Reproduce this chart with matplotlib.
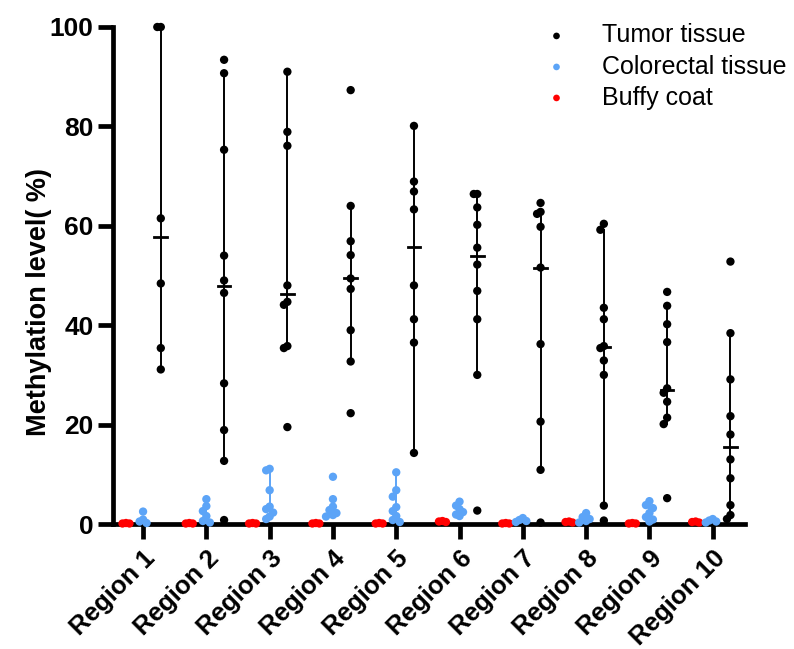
import numpy as np
import matplotlib
matplotlib.use("Agg")
import matplotlib.pyplot as plt

plt.rcParams["font.family"] = ["Liberation Sans", "Noto Sans CJK SC", "DejaVu Sans"]

regions = ["Region 1", "Region 2", "Region 3", "Region 4", "Region 5",
           "Region 6", "Region 7", "Region 8", "Region 9", "Region 10"]
yticks = [0, 20, 40, 60, 80, 100]

# tumor tissue (black)
tumor = [
    [100, 100, 61.5, 48.4, 35.4, 31.1],
    [93.4, 90.7, 75.3, 54.0, 49.0, 46.5, 28.3, 18.9, 12.7, 0.8],
    [91.0, 78.9, 76.1, 48.0, 44.7, 44.1, 35.8, 35.4, 19.5],
    [87.3, 64.0, 56.9, 54.1, 49.4, 47.3, 39.0, 32.7, 22.3],
    [80.1, 68.9, 66.9, 63.3, 48.0, 41.2, 36.5, 14.3],
    [66.4, 66.4, 63.7, 60.2, 55.6, 52.2, 46.9, 41.2, 30.0, 2.7],
    [64.6, 62.8, 62.4, 59.8, 51.6, 36.2, 20.6, 10.9, 0.3],
    [60.4, 59.2, 43.5, 41.2, 35.8, 35.4, 32.9, 30.0, 3.7, 0.7],
    [46.7, 43.9, 40.2, 36.6, 27.3, 26.4, 24.6, 21.4, 20.1, 5.2],
    [52.8, 38.4, 29.1, 21.7, 18.0, 13.0, 9.2, 3.8, 1.8, 1.0],
]
tumor_mid = [57.8, 47.8, 46.2, 49.4, 55.7, 54.0, 51.6, 35.6, 26.9, 15.5]
tumor_lo = [31.1, 12.7, 35.5, 32.7, 14.3, 30.0, 10.9, 3.7, 20.1, 1.8]
tumor_hi = [100, 90.7, 91.0, 64.0, 80.1, 66.4, 62.8, 59.2, 43.9, 38.4]

# colorectal tissue (blue)
colorectal = [
    [2.5, 0.9, 0.5, 0.2],
    [5.0, 3.6, 2.6, 1.6, 0.6, 0.3],
    [11.1, 10.8, 6.8, 3.5, 3.0, 2.3, 1.5, 1.0],
    [9.5, 5.0, 3.5, 2.8, 2.2, 1.8, 1.5],
    [10.4, 6.8, 5.5, 3.4, 2.6, 1.6, 0.8, 0.4],
    [4.5, 3.7, 3.0, 2.4, 1.9, 1.6],
    [1.2, 0.8, 0.6, 0.4],
    [2.2, 1.4, 1.0, 0.6, 0.3],
    [4.6, 3.8, 3.2, 2.2, 1.4, 0.9, 0.5],
    [1.0, 0.7, 0.5, 0.3],
]
colorectal_lo = [0.3, 0.3, 1.5, 1.6, 0.8, 1.7, 0.4, 0.4, 0.7, 0.4]
colorectal_hi = [0.9, 3.6, 11.1, 4.0, 10.4, 3.7, 0.9, 1.8, 3.8, 0.9]

# buffy coat (red)
buffy = [
    [0.1, 0.2, 0.1], [0.1, 0.2, 0.1], [0.1, 0.1, 0.2], [0.2, 0.1, 0.1],
    [0.1, 0.2, 0.1], [0.5, 0.6, 0.4], [0.1, 0.1, 0.2], [0.4, 0.5, 0.3],
    [0.1, 0.2, 0.1], [0.4, 0.5, 0.3],
]

BLACK = "#000000"
BLUE = "#5CA4F7"
RED = "#FF0000"


def swarm_offsets(values, y_tol, step):
    """Spread points sideways when they would overlap."""
    values = np.asarray(values, dtype=float)
    offs = np.zeros(len(values))
    placed = []
    for i in np.argsort(values)[::-1]:
        v = values[i]
        for k in (0, -1, 1, -2, 2, -3, 3):
            x = k * step
            if all(abs(v - pv) >= y_tol or abs(x - px) >= step * 0.9
                   for pv, px in placed):
                break
        offs[i] = x
        placed.append((v, x))
    return offs


fig = plt.figure(figsize=(7.94, 6.49), dpi=100)
ax = fig.add_axes([113 / 794, 125 / 649, 632 / 794, 497 / 649])

pos = np.arange(1, len(regions) + 1)
groups = [
    (buffy, None, None, None, RED, -0.27, "Buffy coat"),
    (colorectal, None, colorectal_lo, colorectal_hi, BLUE, 0.0, "Colorectal tissue"),
    (tumor, tumor_mid, tumor_lo, tumor_hi, BLACK, 0.28, "Tumor tissue"),
]

handles = {}
for data, mid, lo, hi, color, shift, label in groups:
    for i, vals in enumerate(data):
        x0 = pos[i] + shift
        if lo is not None:
            ax.plot([x0, x0], [lo[i], hi[i]], color=color, lw=1.4,
                    zorder=3, clip_on=False)
        if mid is not None:
            ax.plot([x0 - 0.1, x0 + 0.1], [mid[i], mid[i]], color=color,
                    lw=2.0, zorder=3, clip_on=False)
        offs = swarm_offsets(vals, 1.4, 0.055)
        sc = ax.scatter(x0 + offs, vals, s=36, color=color, edgecolors="none",
                        zorder=4, clip_on=False)
        handles[label] = sc

ax.set_xlim(0.525, 10.51)
ax.set_ylim(0, 100)
ax.set_yticks(yticks)
ax.set_xticks(pos)
ax.set_xticklabels(regions, rotation=45, ha="right", rotation_mode="anchor",
                   fontsize=18.5, fontweight="bold")
for t in ax.get_yticklabels():
    t.set_fontsize(19)
    t.set_fontweight("bold")

for side in ("top", "right"):
    ax.spines[side].set_visible(False)
for side in ("left", "bottom"):
    ax.spines[side].set_linewidth(3.4)
ax.tick_params(axis="both", length=11, width=3.4, pad=3)
ax.tick_params(axis="x", pad=5)

ax.set_ylabel("Methylation level( %)", fontsize=19.5, fontweight="bold")
ax.yaxis.set_label_coords(-0.097, 0.447)

order = ["Tumor tissue", "Colorectal tissue", "Buffy coat"]
leg = fig.legend([handles[k] for k in order], order,
                 loc="upper left", bbox_to_anchor=(529 / 794, 1 - 6 / 649),
                 frameon=False, fontsize=18, markerscale=0.8,
                 handlelength=0.8, handletextpad=1.4,
                 labelspacing=0.28, borderpad=0.2)

fig.savefig("out.png", dpi=100)
